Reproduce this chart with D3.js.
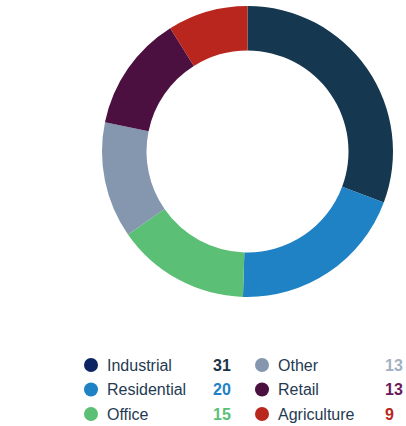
<!DOCTYPE html>
<html><head><meta charset="utf-8">
<script src="https://cdn.jsdelivr.net/npm/d3@7"></script>
<style>body{margin:0;background:#fff}svg{display:block}</style>
</head><body><svg id="c" width="406" height="426"></svg>
<script>
const categories = ["Industrial","Residential","Office","Other","Retail","Agriculture"];
const values = [31,20,15,13,13,9];
const sliceColors = ["#15374f","#1e82c5","#5cbf76","#8596af","#4b0f40","#b8261e"];
const dotColors = ["#0c2461","#1e82c5","#5cbf76","#8596af","#4b0f40","#b8261e"];
const valueColors = ["#1c3347","#1e82c5","#5cbf76","#a3b0c2","#6a1a5c","#b8261e"];

const svg = d3.select("#c");
const cx = 247.5, cy = 151.5, R = 145.5, r = 101;
const pie = d3.pie().sort(null).value(d=>d);
const arc = d3.arc().innerRadius(r).outerRadius(R);
svg.append("g").attr("transform",`translate(${cx},${cy})`)
  .selectAll("path").data(pie(values)).join("path")
  .attr("d",arc).attr("fill",(d,i)=>sliceColors[i]);

const rowY = d3.scalePoint().domain([0,1,2]).range([365,414]);
const colX = [91, 262];
const valX = [213, 385];
const lg = svg.append("g").attr("font-family","'Liberation Sans', Arial, sans-serif").attr("font-size",16);
categories.forEach((c,i)=>{
  const col = i<3?0:1, row = i%3;
  const y = rowY(row);
  lg.append("circle").attr("cx",colX[col]).attr("cy",y).attr("r",7).attr("fill",dotColors[i]);
  lg.append("text").attr("x",colX[col]+16).attr("y",y).attr("dy","0.36em").attr("fill","#1f3a52").text(c);
  lg.append("text").attr("x",valX[col]).attr("y",y).attr("dy","0.36em")
    .attr("font-weight","bold").attr("fill",valueColors[i]).text(values[i]);
});
</script></body></html>
